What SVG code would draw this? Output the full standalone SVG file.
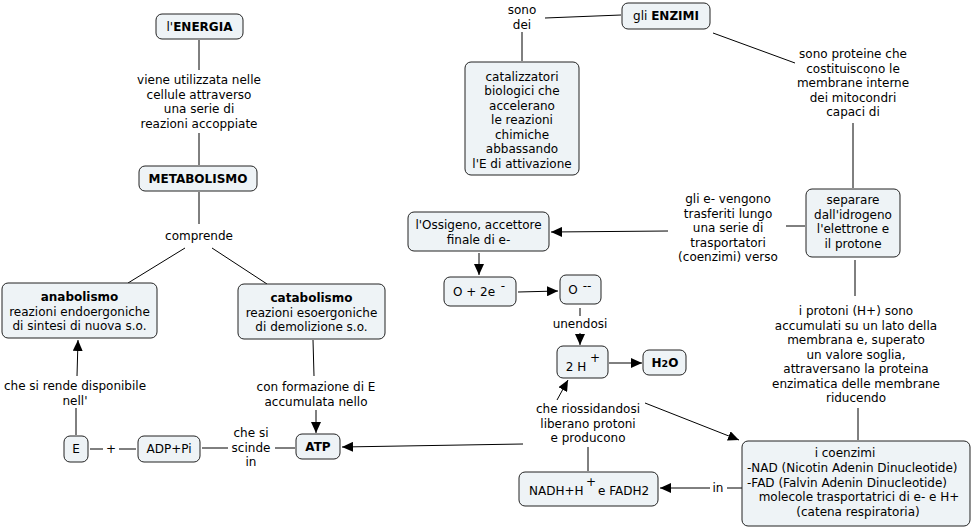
<svg xmlns="http://www.w3.org/2000/svg" width="972" height="530" viewBox="0 0 972 530">
<style>
text{font-family:"DejaVu Sans","Verdana",sans-serif;font-size:12px;fill:#000}
.m{text-anchor:middle}
.b{font-weight:bold}
.n rect{fill:#eef3f6;stroke:#222;stroke-width:1}
#conn line{stroke:#000;stroke-width:1}
.ar{marker-end:url(#ah)}
</style>
<defs>
<marker id="ah" markerWidth="11" markerHeight="10" refX="11" refY="5" orient="auto" markerUnits="userSpaceOnUse"><path d="M0,0 L11,5 L0,10 z" fill="#000"/></marker>
</defs>
<rect width="972" height="530" fill="#fff"/>
<g id="conn">
<line x1="199" y1="40" x2="199" y2="70"/>
<line x1="199" y1="133" x2="199" y2="165"/>
<line x1="199" y1="192" x2="199" y2="224"/>
<line x1="185" y1="248" x2="128" y2="283"/>
<line x1="212" y1="248" x2="267" y2="284"/>
<line x1="313" y1="340" x2="314" y2="376"/>
<line class="ar" x1="316" y1="410" x2="316" y2="433"/>
<line x1="90" y1="449" x2="103" y2="449"/>
<line x1="119" y1="449" x2="136" y2="449"/>
<line x1="202" y1="448" x2="228" y2="448"/>
<line x1="275" y1="448" x2="295" y2="448"/>
<line x1="76" y1="435" x2="76" y2="408"/>
<line class="ar" x1="77" y1="376" x2="78" y2="340"/>
<line x1="545" y1="18" x2="621" y2="15"/>
<line x1="522" y1="32" x2="522" y2="61"/>
<line x1="713" y1="33" x2="795" y2="63"/>
<line x1="853" y1="123" x2="853" y2="188"/>
<line x1="786" y1="226" x2="805" y2="226"/>
<line class="ar" x1="668" y1="231" x2="551" y2="232"/>
<line class="ar" x1="479" y1="253" x2="479" y2="275"/>
<line class="ar" x1="518" y1="292" x2="558" y2="291"/>
<line x1="580" y1="308" x2="580" y2="316"/>
<line class="ar" x1="580" y1="333" x2="580" y2="345"/>
<line class="ar" x1="609" y1="363" x2="642" y2="363"/>
<line class="ar" x1="557" y1="400" x2="568" y2="380"/>
<line class="ar" x1="645" y1="403" x2="739" y2="440"/>
<line x1="588" y1="447" x2="588" y2="471"/>
<line class="ar" x1="523" y1="444" x2="342" y2="447"/>
<line class="ar" x1="710" y1="488" x2="660" y2="488"/>
<line x1="727" y1="488" x2="742" y2="488"/>
<line x1="858" y1="440" x2="858" y2="408"/>
<line x1="855" y1="260" x2="855" y2="296"/>
</g>
<g id="labels">
<text class="m" x="199" y="84">viene utilizzata nelle<tspan x="199" dy="14.5">cellule attraverso</tspan><tspan x="199" dy="14.5">una serie di</tspan><tspan x="199" dy="14.5">reazioni accoppiate</tspan></text>
<text class="m" x="199" y="240">comprende</text>
<text class="m" x="316" y="391">con formazione di E<tspan x="316" dy="14.5">accumulata nello</tspan></text>
<text class="m" x="111" y="453">+</text>
<text class="m" x="251" y="437">che si<tspan x="251" dy="14.5">scinde</tspan><tspan x="251" dy="14.5">in</tspan></text>
<text class="m" x="75" y="390">che si rende disponibile<tspan x="75" dy="14.5">nell'</tspan></text>
<text class="m" x="522" y="14">sono<tspan x="522" dy="14.5">dei</tspan></text>
<text class="m" x="853" y="58">sono proteine che<tspan x="853" dy="14.5">costituiscono le</tspan><tspan x="853" dy="14.5">membrane interne</tspan><tspan x="853" dy="14.5">dei mitocondri</tspan><tspan x="853" dy="14.5">capaci di</tspan></text>
<text class="m" x="728" y="203">gli e- vengono<tspan x="728" dy="14.5">trasferiti lungo</tspan><tspan x="728" dy="14.5">una serie di</tspan><tspan x="728" dy="14.5">trasportatori</tspan><tspan x="728" dy="14.5">(coenzimi) verso</tspan></text>
<text class="m" x="580" y="328">unendosi</text>
<text class="m" x="588" y="413">che riossidandosi<tspan x="588" dy="14.5">liberano protoni</tspan><tspan x="588" dy="14.5">e producono</tspan></text>
<text class="m" x="718" y="492">in</text>
<text class="m" x="856" y="315">i protoni (H+) sono<tspan x="856" dy="14.5">accumulati su un lato della</tspan><tspan x="856" dy="14.5">membrana e, superato</tspan><tspan x="856" dy="14.5">un valore soglia,</tspan><tspan x="856" dy="14.5">attraversano la proteina</tspan><tspan x="856" dy="14.5">enzimatica delle membrane</tspan><tspan x="856" dy="14.5">riducendo</tspan></text>
</g>
<g id="energia" class="n"><rect x="156" y="14" width="87" height="25" rx="6"/><text class="m" x="199.5" y="31">l'<tspan class="b">ENERGIA</tspan></text></g>
<g id="metabolismo" class="n"><rect x="139" y="166" width="118" height="25" rx="6"/><text class="m b" x="198" y="183">METABOLISMO</text></g>
<g id="anabolismo" class="n"><rect x="2" y="283" width="155" height="55" rx="6"/><text class="m" x="79.5" y="301"><tspan class="b">anabolismo</tspan><tspan x="79.5" dy="14.5">reazioni endoergoniche</tspan><tspan x="79.5" dy="14.5">di sintesi di nuova s.o.</tspan></text></g>
<g id="catabolismo" class="n"><rect x="238" y="284" width="147" height="55" rx="6"/><text class="m" x="311.5" y="302"><tspan class="b">catabolismo</tspan><tspan x="311.5" dy="14.5">reazioni esoergoniche</tspan><tspan x="311.5" dy="14.5">di demolizione s.o.</tspan></text></g>
<g id="atp" class="n"><rect x="296" y="434" width="44" height="25" rx="6"/><text class="m b" x="318" y="451">ATP</text></g>
<g id="e" class="n"><rect x="64" y="436" width="24" height="26" rx="6"/><text class="m" x="76" y="453">E</text></g>
<g id="adp" class="n"><rect x="138" y="436" width="62" height="26" rx="6"/><text class="m" x="169" y="453">ADP+Pi</text></g>
<g id="enzimi" class="n"><rect x="622" y="3" width="88" height="26" rx="6"/><text class="m" x="666" y="20">gli <tspan class="b">ENZIMI</tspan></text></g>
<g id="catalizzatori" class="n"><rect x="465" y="62" width="114" height="113" rx="6"/><text class="m" x="522" y="80.5">catalizzatori<tspan x="522" dy="14.5">biologici che</tspan><tspan x="522" dy="14.5">accelerano</tspan><tspan x="522" dy="14.5">le reazioni</tspan><tspan x="522" dy="14.5">chimiche</tspan><tspan x="522" dy="14.5">abbassando</tspan><tspan x="522" dy="14.5">l'E di attivazione</tspan></text></g>
<g id="separare" class="n"><rect x="806" y="189" width="94" height="68" rx="6"/><text class="m" x="853" y="204">separare<tspan x="853" dy="14.5">dall'idrogeno</tspan><tspan x="853" dy="14.5">l'elettrone e</tspan><tspan x="853" dy="14.5">il protone</tspan></text></g>
<g id="ossigeno" class="n"><rect x="408" y="212" width="141" height="39" rx="6"/><text class="m" x="478.5" y="229">l'Ossigeno, accettore<tspan x="478.5" dy="14.5">finale di e-</tspan></text></g>
<g id="o2e" class="n"><rect x="444" y="277" width="72" height="29" rx="6"/><text class="m" x="474" y="296">O + 2e</text><text class="m" x="503" y="290">-</text></g>
<g id="o2" class="n"><rect x="560" y="275" width="41" height="29" rx="6"/><text class="m" x="573" y="294">O</text><text class="m" x="587" y="290">--</text></g>
<g id="h2" class="n"><rect x="557" y="346" width="51" height="32" rx="6"/><text class="m" x="576" y="371">2 H</text><text class="m" x="595" y="362">+</text></g>
<g id="h2o" class="n"><rect x="643" y="350" width="43" height="25" rx="6"/><text class="m b" x="665" y="367">H<tspan font-size="9.5">2</tspan>O</text></g>
<g id="nadh" class="n"><rect x="519" y="472" width="139" height="34" rx="6"/><text x="529" y="495">NADH+H</text><text class="m" x="591" y="486">+</text><text x="598" y="495">e FADH2</text></g>
<g id="coenzimi" class="n"><rect x="742" y="441" width="228" height="85" rx="6"/><text class="m" x="845" y="457">i coenzimi</text><text x="747" y="472">-NAD (Nicotin Adenin Dinucleotide)</text><text x="747" y="486.5">-FAD (Falvin Adenin Dinucleotide)</text><text class="m" x="859" y="501">molecole trasportatrici di e- e H+</text><text class="m" x="858" y="516">(catena respiratoria)</text></g>
</svg>
